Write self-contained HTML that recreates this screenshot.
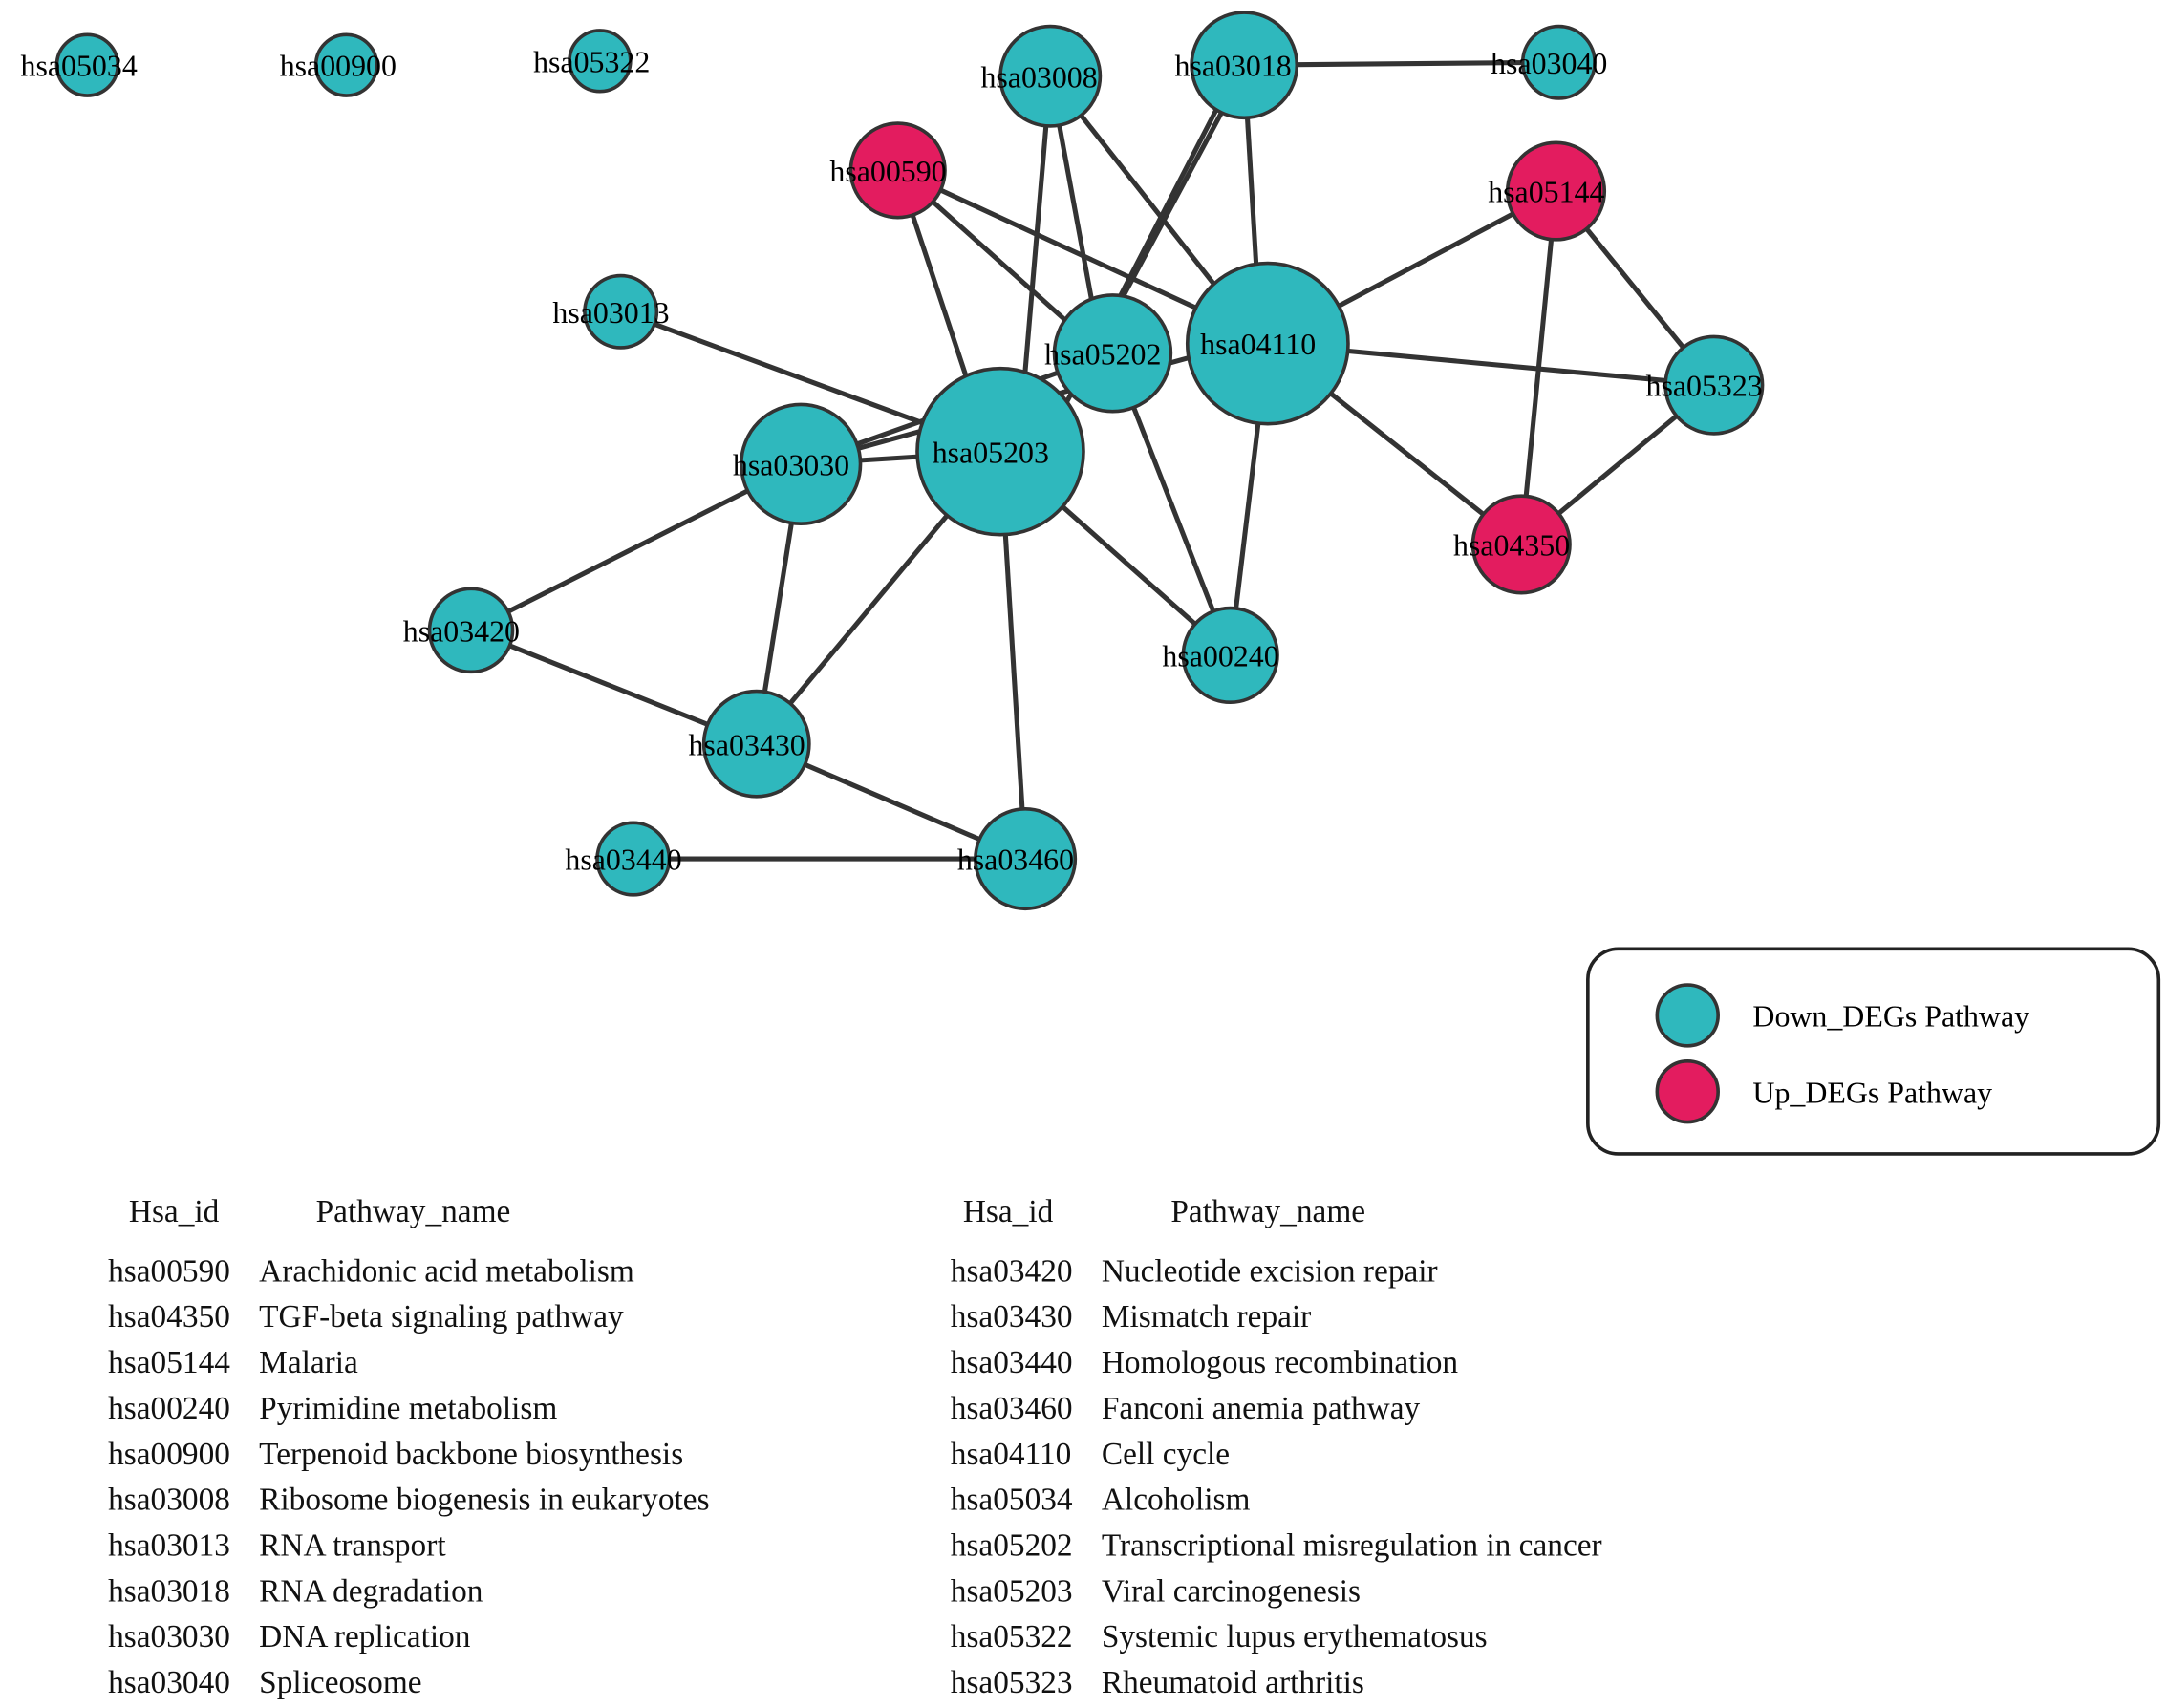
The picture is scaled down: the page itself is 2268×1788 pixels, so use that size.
<!DOCTYPE html>
<html><head><style>html,body{margin:0;padding:0;background:#fff;}svg{display:block}</style></head>
<body>
<svg width="2268" height="1788" viewBox="0 0 1564 1233" preserveAspectRatio="none" xmlns="http://www.w3.org/2000/svg">
<g stroke="#333" stroke-width="3.5" fill="none">
<line x1="898" y1="47" x2="1125" y2="45"/>
<line x1="758" y1="55" x2="735" y2="326"/>
<line x1="758" y1="55" x2="795" y2="255"/>
<line x1="758" y1="55" x2="880" y2="210"/>
<line x1="880" y1="75" x2="795" y2="240"/>
<line x1="885" y1="75" x2="770" y2="290"/>
<line x1="898" y1="47" x2="910" y2="248"/>
<line x1="648" y1="123" x2="700" y2="280"/>
<line x1="648" y1="123" x2="790" y2="250"/>
<line x1="648" y1="123" x2="880" y2="230"/>
<line x1="1123" y1="138" x2="915" y2="248"/>
<line x1="1123" y1="138" x2="1237" y2="278"/>
<line x1="1123" y1="138" x2="1098" y2="393"/>
<line x1="915" y1="248" x2="1237" y2="278"/>
<line x1="915" y1="248" x2="1098" y2="393"/>
<line x1="915" y1="248" x2="888" y2="473"/>
<line x1="1237" y1="278" x2="1098" y2="393"/>
<line x1="448" y1="225" x2="722" y2="326"/>
<line x1="578" y1="335" x2="722" y2="326"/>
<line x1="578" y1="335" x2="803" y2="255"/>
<line x1="578" y1="335" x2="870" y2="255"/>
<line x1="722" y1="326" x2="888" y2="473"/>
<line x1="803" y1="255" x2="888" y2="473"/>
<line x1="722" y1="326" x2="546" y2="537"/>
<line x1="722" y1="326" x2="740" y2="620"/>
<line x1="578" y1="335" x2="340" y2="455"/>
<line x1="578" y1="335" x2="546" y2="537"/>
<line x1="340" y1="455" x2="546" y2="537"/>
<line x1="546" y1="537" x2="740" y2="620"/>
<line x1="457" y1="620" x2="740" y2="620"/>
</g>
<g stroke="#333" stroke-width="2.5" fill="#2fb8bd">
<circle cx="63" cy="47" r="22"/>
<circle cx="250" cy="47" r="22"/>
<circle cx="433" cy="44" r="22"/>
<circle cx="758" cy="55" r="36"/>
<circle cx="898" cy="47" r="38"/>
<circle cx="1125" cy="45" r="26"/>
<circle cx="648" cy="123" r="34" fill="#e31c5f"/>
<circle cx="1123" cy="138" r="35" fill="#e31c5f"/>
<circle cx="448" cy="225" r="26"/>
<circle cx="803" cy="255" r="42"/>
<circle cx="915" cy="248" r="58"/>
<circle cx="1237" cy="278" r="35"/>
<circle cx="578" cy="335" r="43"/>
<circle cx="722" cy="326" r="60"/>
<circle cx="1098" cy="393" r="35" fill="#e31c5f"/>
<circle cx="340" cy="455" r="30"/>
<circle cx="888" cy="473" r="34"/>
<circle cx="546" cy="537" r="38"/>
<circle cx="457" cy="620" r="26"/>
<circle cx="740" cy="620" r="36"/>
</g>
<g font-family="Liberation Serif, serif" font-size="22" fill="#000" text-anchor="middle">
<text x="57" y="55">hsa05034</text>
<text x="244" y="55">hsa00900</text>
<text x="427" y="52">hsa05322</text>
<text x="750" y="63">hsa03008</text>
<text x="890" y="55">hsa03018</text>
<text x="1118" y="53">hsa03040</text>
<text x="641" y="131">hsa00590</text>
<text x="1116" y="146">hsa05144</text>
<text x="441" y="233">hsa03013</text>
<text x="796" y="263">hsa05202</text>
<text x="908" y="256">hsa04110</text>
<text x="1230" y="286">hsa05323</text>
<text x="571" y="343">hsa03030</text>
<text x="715" y="334">hsa05203</text>
<text x="1091" y="401">hsa04350</text>
<text x="333" y="463">hsa03420</text>
<text x="881" y="481">hsa00240</text>
<text x="539" y="545">hsa03430</text>
<text x="450" y="628">hsa03440</text>
<text x="733" y="628">hsa03460</text>
</g>
<rect x="1146" y="685" width="412" height="148" rx="22" fill="#fff" stroke="#222" stroke-width="2.5"/>
<circle cx="1218" cy="733" r="22" fill="#2fb8bd" stroke="#333" stroke-width="2.5"/>
<circle cx="1218" cy="788" r="22" fill="#e31c5f" stroke="#333" stroke-width="2.5"/>
<g font-family="Liberation Serif, serif" font-size="22" fill="#000">
<text x="1265" y="741">Down_DEGs Pathway</text>
<text x="1265" y="796">Up_DEGs Pathway</text>
</g>
<g font-family="Liberation Serif, serif" font-size="23" fill="#111">
<text x="93" y="882">Hsa_id</text><text x="228" y="882">Pathway_name</text>
<text x="695" y="882">Hsa_id</text><text x="845" y="882">Pathway_name</text>
<text x="78" y="925">hsa00590</text><text x="187" y="925">Arachidonic acid metabolism</text>
<text x="78" y="958">hsa04350</text><text x="187" y="958">TGF-beta signaling pathway</text>
<text x="78" y="991">hsa05144</text><text x="187" y="991">Malaria</text>
<text x="78" y="1024">hsa00240</text><text x="187" y="1024">Pyrimidine metabolism</text>
<text x="78" y="1057">hsa00900</text><text x="187" y="1057">Terpenoid backbone biosynthesis</text>
<text x="78" y="1090">hsa03008</text><text x="187" y="1090">Ribosome biogenesis in eukaryotes</text>
<text x="78" y="1123">hsa03013</text><text x="187" y="1123">RNA transport</text>
<text x="78" y="1156">hsa03018</text><text x="187" y="1156">RNA degradation</text>
<text x="78" y="1189">hsa03030</text><text x="187" y="1189">DNA replication</text>
<text x="78" y="1222">hsa03040</text><text x="187" y="1222">Spliceosome</text>
<text x="686" y="925">hsa03420</text><text x="795" y="925">Nucleotide excision repair</text>
<text x="686" y="958">hsa03430</text><text x="795" y="958">Mismatch repair</text>
<text x="686" y="991">hsa03440</text><text x="795" y="991">Homologous recombination</text>
<text x="686" y="1024">hsa03460</text><text x="795" y="1024">Fanconi anemia pathway</text>
<text x="686" y="1057">hsa04110</text><text x="795" y="1057">Cell cycle</text>
<text x="686" y="1090">hsa05034</text><text x="795" y="1090">Alcoholism</text>
<text x="686" y="1123">hsa05202</text><text x="795" y="1123">Transcriptional misregulation in cancer</text>
<text x="686" y="1156">hsa05203</text><text x="795" y="1156">Viral carcinogenesis</text>
<text x="686" y="1189">hsa05322</text><text x="795" y="1189">Systemic lupus erythematosus</text>
<text x="686" y="1222">hsa05323</text><text x="795" y="1222">Rheumatoid arthritis</text>
</g>
</svg>
</body></html>
